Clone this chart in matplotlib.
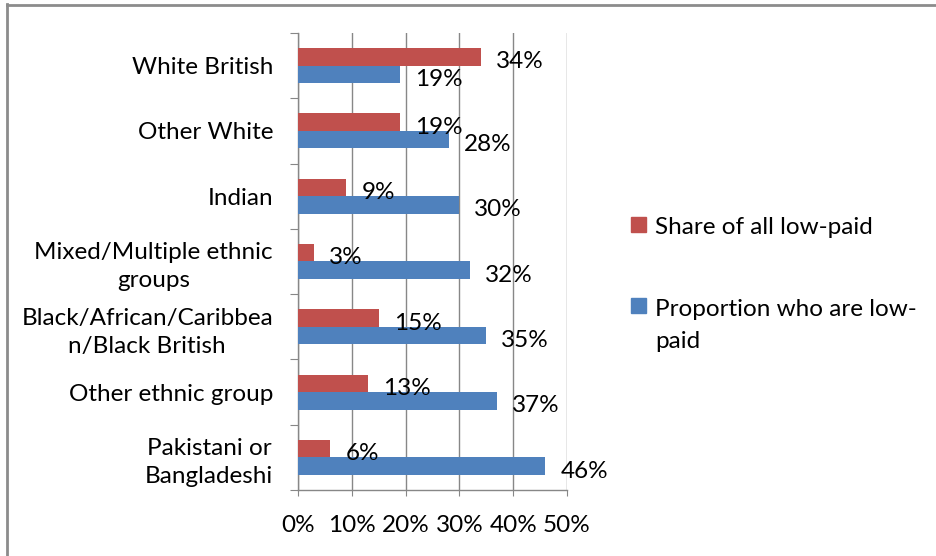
import matplotlib
matplotlib.use("Agg")
import matplotlib.pyplot as plt
from matplotlib.patches import Rectangle
from matplotlib.lines import Line2D
from matplotlib.transforms import offset_copy
import numpy as np

plt.rcParams['font.family'] = ['Lato', 'DejaVu Sans']

categories = ["White British", "Other White", "Indian",
              "Mixed/Multiple ethnic\ngroups",
              "Black/African/Caribbea\nn/Black British",
              "Other ethnic group", "Pakistani or\nBangladeshi"]
share_low_paid = [34, 19, 9, 3, 15, 13, 6]
proportion_low_paid = [19, 28, 30, 32, 35, 37, 46]
series_names = ["Share of all low-paid", "Proportion who are low-\npaid"]
xticks = [0, 10, 20, 30, 40, 50]
xtick_labels = ["0%", "10%", "20%", "30%", "40%", "50%"]

RED = "#C0504D"
BLUE = "#4F81BD"
GRID = "#878787"
FS = 17.5

W, H = 936, 556
fig = plt.figure(figsize=(W / 100, H / 100), dpi=100)
ax = fig.add_axes([298 / W, 1 - 490 / H, (567 - 298) / W, (490 - 33) / H])

y = np.arange(len(categories))
h = 0.268
ax.barh(y - h / 2, share_low_paid, height=h, color=RED, zorder=3)
ax.barh(y + h / 2, proportion_low_paid, height=h, color=BLUE, zorder=3)

ax.set_xlim(0, 50)
ax.set_ylim(len(categories) - 0.5, -0.5)

ax.set_xticks(xticks)
ax.set_xticklabels(xtick_labels, fontsize=FS)
ax.tick_params(axis='x', direction='out', length=4, color=GRID, pad=14)

ax.set_yticks(np.arange(len(categories) + 1) - 0.5)
ax.set_yticklabels([])
ax.tick_params(axis='y', direction='out', length=6, color=GRID)
ax.set_yticks(y, minor=True)
ax.set_yticklabels(categories, minor=True, fontsize=FS, multialignment='center',
                   linespacing=1.4)
ax.tick_params(axis='y', which='minor', length=0, pad=18)

ax.grid(axis='x', color=GRID, linewidth=1, zorder=0)
for s in ['top', 'right']:
    ax.spines[s].set_visible(False)
for s in ['left', 'bottom']:
    ax.spines[s].set_color(GRID)
    ax.spines[s].set_linewidth(1)

# data labels
tr = offset_copy(ax.transData, fig=fig, x=15, y=-5, units='dots')
for i in y:
    ax.text(share_low_paid[i], i - h / 2, f"{share_low_paid[i]}%", fontsize=FS,
            ha='left', va='center', transform=tr, zorder=4)
    ax.text(proportion_low_paid[i], i + h / 2, f"{proportion_low_paid[i]}%", fontsize=FS,
            ha='left', va='center', transform=tr, zorder=4)

# legend (manual)
for (yc, col, name) in [(224.5, RED, series_names[0]), (305.5, BLUE, series_names[1])]:
    fig.patches.append(Rectangle((631 / W, 1 - (yc + 7.5) / H), 15 / W, 15 / H,
                                 transform=fig.transFigure, color=col))
    fig.text(655 / W, 1 - (yc - 7) / H, name, fontsize=FS, ha='left', va='top',
             linespacing=1.65)

# outer border (top and left only visible)
fig.add_artist(Line2D([6.5 / W, 6.5 / W], [0, 1 - 4 / H], transform=fig.transFigure,
                      color="#8c8c8c", lw=2))
fig.add_artist(Line2D([6.5 / W, 1], [1 - 4.5 / H, 1 - 4.5 / H], transform=fig.transFigure,
                      color="#8c8c8c", lw=2))

fig.savefig("out.png", dpi=100)
